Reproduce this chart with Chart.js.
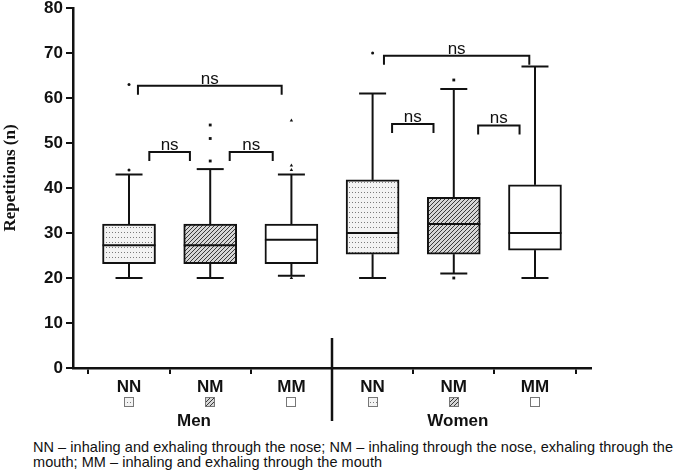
<!DOCTYPE html>
<html>
<head>
<meta charset="utf-8">
<script src="https://cdn.jsdelivr.net/npm/chart.js@4.4.1/dist/chart.umd.min.js"></script>
<style>
  body { margin: 0; background: #fff; }
  #wrap { position: relative; width: 685px; height: 475px; }
  #note {
    position: absolute; left: 33px; top: 440px; width: 648px;
    font: 14.5px "Liberation Sans", Arial, sans-serif; letter-spacing: 0.05px;
    line-height: 15px; color: #111;
  }
</style>
</head>
<body>
<div id="wrap">
  <canvas id="chart" width="685" height="437"></canvas>
  <div id="note">NN – inhaling and exhaling through the nose; NM – inhaling through the nose, exhaling through the mouth; MM – inhaling and exhaling through the mouth</div>
</div>
<script>
// --- data ---
const categories = ['NN', 'NM', 'MM', 'NN', 'NM', 'MM'];
const groups = ['Men', 'Women'];
const yTitle = 'Repetitions (n)';
const whiskerLow = [20, 20, 20.5, 20, 21, 20];
const q1 = [23.2, 23.2, 23.2, 25.3, 25.3, 26.2];
const medians = [27.3, 27.3, 28.5, 30, 32, 30];
const q3 = [32, 32, 32, 41.8, 37.9, 40.7];
const whiskerHigh = [43, 44.2, 43, 61, 62, 67];
const menOutliers = [[44, 63], [46, 51, 54], [55, 45, 44, 20]];
const womenOutliers = [[70], [64, 20], [20]];

// significance brackets (x in category units, level in repetitions)
const bracketStart = [0.25, 1.24, 0.11, 3.24, 4.3, 3.14];
const bracketEnd = [0.75, 1.77, 1.88, 3.75, 4.81, 4.93];
const bracketLevel = [48, 48, 62.7, 54.2, 53.9, 69.4];
const bracketText = ['ns', 'ns', 'ns', 'ns', 'ns', 'ns'];

const canvas = document.getElementById('chart');
const mainCtx = canvas.getContext('2d');

function dotPattern() {
  const c = document.createElement('canvas');
  c.width = 3; c.height = 5;
  const g = c.getContext('2d');
  g.fillStyle = '#f3f3f3';
  g.fillRect(0, 0, 3, 5);
  g.fillStyle = '#7a7a7a';
  g.fillRect(1, 2, 1, 1);
  return mainCtx.createPattern(c, 'repeat');
}

function hatchPattern() {
  const s = 4;
  const c = document.createElement('canvas');
  c.width = s; c.height = s;
  const g = c.getContext('2d');
  g.fillStyle = '#d6d6d6';
  g.fillRect(0, 0, s, s);
  g.strokeStyle = '#3a3a3a';
  g.lineWidth = 1;
  g.beginPath();
  g.moveTo(0, s); g.lineTo(s, 0);
  g.moveTo(-1, 1); g.lineTo(1, -1);
  g.moveTo(s - 1, s + 1); g.lineTo(s + 1, s - 1);
  g.stroke();
  return mainCtx.createPattern(c, 'repeat');
}

const fills = [dotPattern(), hatchPattern(), '#ffffff'];
const boxFills = categories.map((c, i) => fills[i % 3]);
const markerStyles = ['circle', 'rect', 'triangle'];
const markerSizes = [1.5, 2, 2];

const outlierSets = [0, 1, 2].map(k => {
  const pts = [];
  menOutliers[k].forEach(v => pts.push({ x: k, y: v }));
  womenOutliers[k].forEach(v => pts.push({ x: k + 3, y: v }));
  return {
    type: 'scatter',
    data: pts,
    pointStyle: markerStyles[k],
    pointRadius: markerSizes[k],
    backgroundColor: '#111',
    borderColor: '#111',
    borderWidth: 0
  };
});

function line(ctx, x1, y1, x2, y2) {
  ctx.beginPath();
  ctx.moveTo(x1, y1);
  ctx.lineTo(x2, y2);
  ctx.stroke();
}

const boxExtras = {
  id: 'boxExtras',
  afterDatasetsDraw(chart) {
    const { ctx, scales: { x, y } } = chart;
    ctx.save();
    ctx.strokeStyle = '#111';
    ctx.lineWidth = 2;
    categories.forEach((c, i) => {
      const cx = x.getPixelForValue(i);
      const yHi = y.getPixelForValue(whiskerHigh[i]);
      const yLo = y.getPixelForValue(whiskerLow[i]);
      line(ctx, cx, y.getPixelForValue(q3[i]), cx, yHi);
      line(ctx, cx, y.getPixelForValue(q1[i]), cx, yLo);
      line(ctx, cx - 13.5, yHi, cx + 13.5, yHi);
      line(ctx, cx - 13.5, yLo, cx + 13.5, yLo);
      const ym = y.getPixelForValue(medians[i]);
      line(ctx, cx - 26.5, ym, cx + 26.5, ym);
    });
    ctx.restore();
  },
  afterDraw(chart) {
    const { ctx, scales: { x, y }, chartArea } = chart;
    ctx.save();
    // brackets
    ctx.strokeStyle = '#111';
    ctx.lineWidth = 2;
    ctx.fillStyle = '#111';
    ctx.font = '17px "Liberation Sans", Arial, sans-serif';
    ctx.textAlign = 'center';
    ctx.textBaseline = 'alphabetic';
    bracketLevel.forEach((lv, k) => {
      const x1 = x.getPixelForValue(bracketStart[k]);
      const x2 = x.getPixelForValue(bracketEnd[k]);
      const yl = y.getPixelForValue(lv);
      ctx.beginPath();
      ctx.moveTo(x1, yl + 9);
      ctx.lineTo(x1, yl);
      ctx.lineTo(x2, yl);
      ctx.lineTo(x2, yl + 9);
      ctx.stroke();
      ctx.fillText(bracketText[k], (x1 + x2) / 2, yl - 2);
    });
    // legend squares under tick labels
    categories.forEach((c, i) => {
      const cx = Math.round(x.getPixelForValue(i));
      const top = chartArea.bottom + 29;
      ctx.fillStyle = boxFills[i];
      ctx.fillRect(cx - 5, top, 10, 10);
      ctx.strokeStyle = '#777';
      ctx.lineWidth = 1;
      ctx.strokeRect(cx - 4.5, top + 0.5, 9, 9);
    });
    // group divider
    ctx.strokeStyle = '#111';
    ctx.lineWidth = 2.5;
    const xd = x.getPixelForValue(2.5);
    line(ctx, xd, chartArea.bottom - 30, xd, chartArea.bottom + 53);
    // group labels
    ctx.fillStyle = '#111';
    ctx.font = 'bold 17px "Liberation Sans", Arial, sans-serif';
    ctx.textBaseline = 'middle';
    ctx.fillText(groups[0], x.getPixelForValue(0.8), chartArea.bottom + 53);
    ctx.fillText(groups[1], x.getPixelForValue(4.05), chartArea.bottom + 53);
    // y axis title
    ctx.translate(11, (chartArea.top + chartArea.bottom) / 2 - 10);
    ctx.rotate(-Math.PI / 2);
    ctx.font = 'bold 17px "Liberation Serif", "Times New Roman", serif';
    ctx.fillText(yTitle, 0, 0);
    ctx.restore();
  }
};

new Chart(canvas, {
  type: 'bar',
  data: {
    datasets: [
      {
        type: 'bar',
        data: q1.map((v, i) => ({ x: i, y: [v, q3[i]] })),
        backgroundColor: boxFills,
        borderColor: '#111',
        borderWidth: 2,
        borderSkipped: false,
        barThickness: 53
      },
      ...outlierSets
    ]
  },
  options: {
    responsive: false,
    animation: false,
    layout: { padding: { top: 8, right: 94, left: 0, bottom: 0 } },
    plugins: { legend: { display: false }, tooltip: { enabled: false } },
    scales: {
      x: {
        type: 'linear',
        min: -0.69,
        max: 5.69,
        offset: false,
        afterBuildTicks: s => { s.ticks = categories.map((c, i) => ({ value: i })); },
        afterFit: s => { s.height = 69; },
        grid: { drawOnChartArea: false, drawTicks: true, tickLength: 6, color: '#111', lineWidth: 2 },
        border: { display: true, color: '#111', width: 2.5 },
        ticks: {
          autoSkip: false,
          maxRotation: 0,
          padding: 3,
          color: '#111',
          font: { family: '"Liberation Sans", Arial, sans-serif', size: 17, weight: 'bold' },
          callback: v => categories[Math.round(v)]
        }
      },
      y: {
        min: 0,
        max: 80,
        afterFit: s => { s.width = 73; s.paddingTop = 0; s.paddingBottom = 0; },
        grid: { drawOnChartArea: false, drawTicks: true, tickLength: 7, color: '#111', lineWidth: 2 },
        border: { display: true, color: '#111', width: 2.5 },
        ticks: {
          stepSize: 10,
          padding: 3,
          color: '#111',
          font: { family: '"Liberation Sans", Arial, sans-serif', size: 17, weight: 'bold' }
        }
      }
    }
  },
  plugins: [boxExtras]
});
</script>
</body>
</html>
